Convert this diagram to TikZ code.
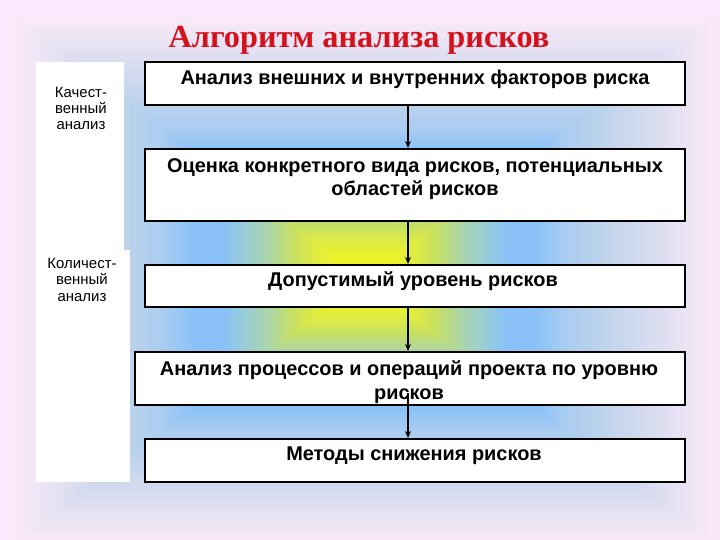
\documentclass[tikz,border=0pt]{standalone}
\usepackage{fontspec}
\setmainfont{Liberation Sans}
\newfontfamily\titlefont{Liberation Serif}
\usetikzlibrary{arrows.meta}
\definecolor{bgpink}{RGB}{252,232,252}
\definecolor{gA}{RGB}{242,246,30}
\definecolor{gB}{RGB}{238,243,40}
\definecolor{gC}{RGB}{224,236,64}
\definecolor{gD}{RGB}{200,224,96}
\definecolor{gE}{RGB}{168,212,176}
\definecolor{gF}{RGB}{152,204,216}
\definecolor{gG}{RGB}{136,192,248}
\definecolor{gH}{RGB}{138,194,248}
\definecolor{gI}{RGB}{168,204,240}
\definecolor{gJ}{RGB}{192,212,236}
\definecolor{gK}{RGB}{216,220,240}
\definecolor{gL}{RGB}{236,228,244}
\definecolor{gM}{RGB}{248,232,248}
\definecolor{titlered}{RGB}{212,18,28}
\begin{document}
\begin{tikzpicture}[x=1bp,y=-1bp,
  box/.style={draw=black, line width=2bp, fill=white, minimum width=540bp, inner sep=0pt},
  boxtext/.style={font=\bfseries\fontsize{20}{24}\selectfont, align=center, anchor=base, inner sep=0pt},
  sidetext/.style={font=\fontsize{15}{16.5}\selectfont, align=center, anchor=base, inner sep=0pt},
  panel/.style={fill=white, draw=none, inner sep=0pt, anchor=north west},
  arr/.style={draw=black, line width=1.5bp, -{Stealth[length=7bp,width=6bp]}}]
\useasboundingbox (0,0) rectangle (720,540);
% background: rectangular gradient
\fill[bgpink] (0,0) rectangle (720,540);
\foreach \ra/\rb/\ca/\cb in {50/48/bgpink/gM, 48/45/gM/gL, 45/40/gL/gK, 40/34/gK/gJ, 34/28/gJ/gI, 28/24/gI/gH, 24/20/gH/gG, 20/17/gG/gF, 17/14/gF/gE, 14/10/gE/gD, 10/7/gD/gC, 7/4/gC/gB, 4/0/gB/gA}{
  \foreach \k in {0,...,9}{
    \pgfmathsetmacro\r{\ra-(\ra-\rb)*\k/10}
    \pgfmathtruncatemacro\p{100-\k*10}
    \fill[fill=\ca!\p!\cb] ({365-\r*7.2},{280-\r*5.4}) rectangle ({365+\r*7.2},{280+\r*5.4});
  }
}
% title
\node[font=\titlefont\bfseries\fontsize{32.4}{38}\selectfont, text=titlered, anchor=base, inner sep=0pt] (title) at (359,48) {Алгоритм анализа рисков};
% side panels
\node[panel, minimum width=88bp, minimum height=188bp] (p1) at (36,62) {};
\node[panel, minimum width=94bp, minimum height=232bp] (p2) at (36,250) {};
\node[sidetext] (s1) at (81,130) {Качест-\\венный\\анализ};
\node[sidetext] (s2) at (82,301) {Количест-\\венный\\анализ};
% boxes
\node[box, minimum height=43bp] (b1) at (415,83.5) {};
\node[box, minimum height=72bp] (b2) at (415,185) {};
\node[box, minimum height=42bp] (b3) at (415,286) {};
\node[box, minimum height=53bp, minimum width=550bp] (b4) at (410,378.5) {};
\node[box, minimum height=43bp] (b5) at (415,460.5) {};
\node[boxtext] (t1) at (415,85) {Анализ внешних и внутренних факторов риска};
\node[boxtext] (t2) at (415,196) {Оценка конкретного вида рисков, потенциальных\\областей рисков};
\node[boxtext] (t3) at (413,287) {Допустимый уровень рисков};
\node[boxtext] (t4) at (409,399) {Анализ процессов и операций проекта по уровню\\рисков};
\node[boxtext] (t5) at (414,460) {Методы снижения рисков};
% arrows
\coordinate (ax) at (408,0);
\coordinate (c45) at (408,393);
\draw[arr] (b1.south -| ax) -- (b2.north -| ax);
\draw[arr] (b2.south -| ax) -- (b3.north -| ax);
\draw[arr] (b3.south -| ax) -- (b4.north -| ax);
\draw[arr] (c45) -- (b5.north -| ax);
\end{tikzpicture}
\end{document}
